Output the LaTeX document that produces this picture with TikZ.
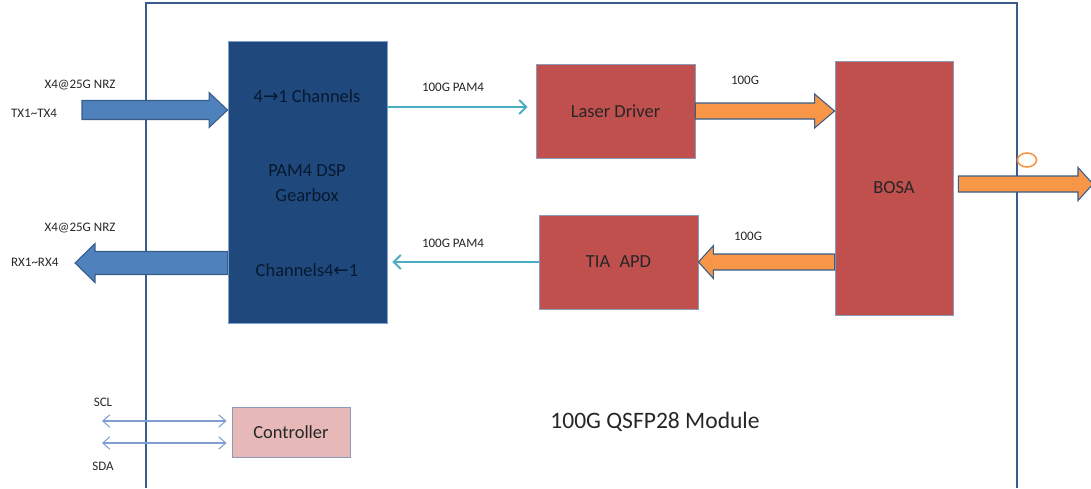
\documentclass[tikz,border=0pt]{standalone}
\usepackage{fontspec}
\setmainfont{Carlito}
\newfontfamily\arrowfont{DejaVu Sans}
\usetikzlibrary{calc,arrows.meta}

\definecolor{frameblue}{HTML}{385D8A}
\definecolor{dspblue}{HTML}{1F497D}
\definecolor{dsptext}{HTML}{081830}
\definecolor{blockred}{HTML}{C0504D}
\definecolor{blockpink}{HTML}{E6B9B8}
\definecolor{edgegray}{HTML}{8C9BB8}
\definecolor{fatblue}{HTML}{4F81BD}
\definecolor{fatorange}{HTML}{F79646}
\definecolor{linkcyan}{HTML}{4BACC6}
\definecolor{busblue}{HTML}{7F9FD0}

\begin{document}
\begin{tikzpicture}[x=0.02cm,y=-0.02cm,
  dsp_block/.style={rectangle,fill=dspblue,draw=busblue,line width=0.5pt,minimum width=3.18cm,minimum height=5.64cm,inner sep=0pt},
  dsp_label/.style={text=dsptext,font=\fontsize{10.5}{14}\selectfont,align=center},
  red_block/.style={rectangle,fill=blockred,draw=edgegray,line width=0.5pt,inner sep=0pt,text=black!85,font=\fontsize{10.5}{12}\selectfont},
  ctrl_block/.style={rectangle,fill=blockpink,draw=edgegray,line width=0.5pt,inner sep=0pt,text=black!85,font=\fontsize{10.5}{12}\selectfont,minimum width=2.36cm,minimum height=1cm},
  small_label/.style={text=black!85,font=\fontsize{7.4}{9}\selectfont,inner sep=1pt},
  fat_arrow/.style n args={3}{to path={let \p1=(\tikztostart), \p2=(\tikztotarget), \n1={(\x2>\x1)*2-1} in
    (\x1,\y1-#1) -- (\x2-\n1*#3,\y1-#1) -- (\x2-\n1*#3,\y1-#2) -- (\x2,\y1)
    -- (\x2-\n1*#3,\y1+#2) -- (\x2-\n1*#3,\y1+#1) -- (\x1,\y1+#1) -- cycle}},
  link/.style={draw=linkcyan,line width=1.1pt,-{Straight Barb[length=4pt,width=8pt]}},
  bus/.style={draw=busblue,line width=0.6pt,{Straight Barb[length=4pt,width=7pt]}-{Straight Barb[length=4pt,width=7pt]}}]

\useasboundingbox (0,0) rectangle (1091,488);

% module outline, open at the bottom
\draw[frameblue,line width=1.1pt] (146,488) -- (146,3) -- (1017,3) -- (1017,488);

% blocks
\node[dsp_block] (dsp) at (307.5,182) {};
\node[dsp_label] (mux) at (307,96) {4{\arrowfont→}1 Channels};
\node[dsp_label] (core) at (307,183) {PAM4 DSP\\Gearbox};
\node[dsp_label] (demux) at (307,270) {Channels4{\arrowfont←}1};

\node[red_block,minimum width=3.18cm,minimum height=1.88cm] (laser) at (615.5,111) {Laser Driver};
\node[red_block,minimum width=3.18cm,minimum height=1.88cm] (tia) at (618.5,262) {TIA\enspace APD};
\node[red_block,minimum width=2.36cm,minimum height=5.08cm] (bosa) at (894,188) {BOSA};
\node[ctrl_block] (ctrl) at (291,432) {Controller};

\node[font=\fontsize{13.4}{16}\selectfont,text=black!85] (module) at (655,422) {100G QSFP28 Module};

% electrical side
\coordinate (txin) at (82,110);
\coordinate (rxout) at (75,263);
\draw[fill=fatblue,draw=frameblue,line width=0.6pt] (txin) to[fat_arrow={0.19cm}{0.35cm}{0.37cm}] (txin -| dsp.west);
\draw[fill=fatblue,draw=frameblue,line width=0.6pt] (rxout -| dsp.west) to[fat_arrow={0.23cm}{0.39cm}{0.4cm}] (rxout);

\node[small_label] (txrate) at (80,85) {X4@25G NRZ};
\node[small_label,anchor=west] (txname) at (9,113) {TX1\textasciitilde TX4};
\node[small_label] (rxrate) at (80,228) {X4@25G NRZ};
\node[small_label,anchor=west] (rxname) at (9,262) {RX1\textasciitilde RX4};

% PAM4 links
\draw[link] (dsp.east |- 0,107) -- ([xshift=-0.16cm]laser.west |- 0,107);
\draw[link] (tia.west) -- ([xshift=0.1cm]dsp.east |- tia.west);
\node[small_label] (txpam) at (453,87) {100G PAM4};
\node[small_label] (rxpam) at (453,243) {100G PAM4};

% optical side
\draw[fill=fatorange,draw=frameblue,line width=0.6pt] (laser.east) to[fat_arrow={0.16cm}{0.34cm}{0.4cm}] (bosa.west |- laser.east);
\draw[fill=fatorange,draw=frameblue,line width=0.6pt] (bosa.west |- tia.east) to[fat_arrow={0.16cm}{0.33cm}{0.3cm}] (tia.east);
\coordinate (fiber) at (1093,184);
\draw[fill=fatorange,draw=frameblue,line width=0.6pt] ([xshift=0.1cm]bosa.east |- fiber) to[fat_arrow={0.16cm}{0.33cm}{0.3cm}] (fiber);
\node[small_label] (txopt) at (745,80) {100G};
\node[small_label] (rxopt) at (748,236) {100G};
\draw[fatorange,line width=0.9pt] (1027,160) ellipse [x radius=0.19cm, y radius=0.14cm];

% management bus
\coordinate (scl) at (102,421);
\coordinate (sda) at (102,443);
\draw[bus] (scl) -- ([xshift=-0.1cm]scl -| ctrl.west);
\draw[bus] (sda) -- ([xshift=-0.1cm]sda -| ctrl.west);
\node[small_label] (scllabel) at (103,402) {SCL};
\node[small_label] (sdalabel) at (103,466) {SDA};
\end{tikzpicture}
\end{document}
